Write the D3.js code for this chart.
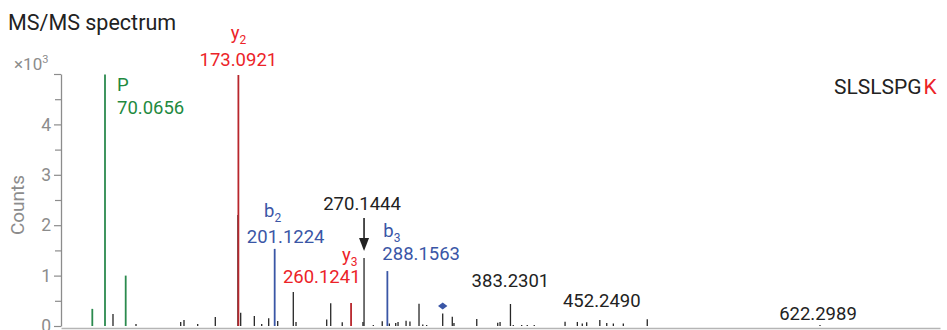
<!DOCTYPE html>
<html>
<head>
<meta charset="utf-8">
<script src="https://cdn.jsdelivr.net/npm/d3@7"></script>
<style>
  body { margin: 0; background: #fff; }
  svg { display: block; font-family: Roboto, "Noto Sans", sans-serif; }
</style>
</head>
<body>
<svg id="chart" width="947" height="330"></svg>
<script>
// Fragment peaks: m/z, intensity (counts) and ion class
const peakMz = [60.26, 70.0656, 76.24, 86.05, 94.01, 128.53, 131.08, 141.66, 155.26,
  172.75, 173.0921, 174.87, 185.4, 191.1, 196.5, 201.1224, 203.45, 215.5, 217.6,
  241.3, 244.4, 253.3, 260.1241, 269.3, 270.1444, 277.3, 284.2, 288.1563, 289.7,
  294.6, 296.4, 302.6, 305.6, 312.6, 315.5, 318.5, 330.9, 338.3, 339.6, 357.2,
  373.4, 375.2, 383.2301, 385.4, 391.9, 396.2, 401.6, 425.4, 434.9, 438.7, 442.1,
  452.2490, 457.6, 462.7, 470.4, 488.9, 622.2989];
const peakCounts = [340, 4990, 240, 1000, 40, 80, 120, 40, 180,
  2200, 4980, 265, 200, 40, 155, 1530, 100, 675, 80,
  130, 450, 75, 456, 80, 1350, 20, 95, 1090, 50,
  60, 80, 105, 90, 440, 30, 20, 250, 185, 60, 140,
  65, 80, 437, 20, 20, 20, 20, 85, 80, 50, 75,
  119, 60, 50, 50, 135, 20];
const peakIon = ['P', 'P', 'n', 'P', 'n', 'n', 'n', 'n', 'n',
  'n', 'y', 'n', 'n', 'n', 'n', 'b', 'n', 'n', 'n',
  'n', 'n', 'n', 'y', 'n', 'n', 'n', 'n', 'b', 'n',
  'n', 'n', 'n', 'n', 'n', 'n', 'n', 'n', 'n', 'n', 'n',
  'n', 'n', 'n', 'n', 'n', 'n', 'n', 'n', 'n', 'n', 'n',
  'n', 'n', 'n', 'n', 'n', 'n'];

// Annotated peaks
const labelMz = [70.0656, 173.0921, 201.1224, 260.1241, 270.1444, 288.1563, 383.2301, 452.2490, 622.2989];
const labelIon = ['P', 'y', 'b', 'y', '', 'b', '', '', ''];
const labelSub = ['', '2', '2', '3', '', '3', '', '', ''];
const precursorMz = 330.9;

// Axis ticks
const yTicks = [0, 500, 1000, 1500, 2000, 2500, 3000, 3500, 4000, 4500, 5000];
const yTickLabels = ['0', '', '1', '', '2', '', '3', '', '4', '', ''];

// Peptide sequence
const seqPlain = 'SLSLSPG';
const seqMod = 'K';

const ionColor = { P: '#2b8a4e', y: '#b8262c', b: '#3a56a6', n: '#262626' };
const textColor = { P: '#1f8a3f', y: '#ec2328', b: '#3a56a6', '': '#222' };
const axisGray = '#8c8c8c';

const svg = d3.select('#chart');

const x = d3.scaleLinear().domain([36.08, 715]).range([61, 940]);
const y = d3.scaleLinear().domain([0, 5000]).range([326, 74]);

// Title
svg.append('text').attr('x', 8).attr('y', 30)
  .attr('font-size', 21.5).attr('fill', '#222').text('MS/MS spectrum');

// Y axis
const yAxis = svg.append('g').attr('transform', 'translate(61,0)')
  .call(d3.axisLeft(y).tickValues(yTicks)
    .tickFormat((d, i) => yTickLabels[i]).tickSize(7).tickSizeOuter(0).tickPadding(3));
yAxis.select('.domain').attr('stroke', axisGray).attr('stroke-width', 1.3);
yAxis.selectAll('.tick line').attr('stroke', axisGray).attr('stroke-width', 1.2)
  .attr('x2', (d, i) => yTickLabels[i] === '' && d !== 5000 ? -6 : -7);
yAxis.selectAll('.tick text').attr('fill', axisGray).attr('font-size', 17.5)
  .attr('font-family', 'Roboto, sans-serif');

svg.append('text').attr('x', 14).attr('y', 70)
  .attr('font-size', 17).attr('fill', axisGray)
  .text('×10').append('tspan').attr('font-size', 11).attr('dy', -7).text('3');

svg.append('text')
  .attr('transform', 'translate(24,205) rotate(-90)')
  .attr('text-anchor', 'middle').attr('font-size', 19).attr('fill', axisGray)
  .text('Counts');

// X axis baseline
const xAxis = svg.append('g').attr('transform', 'translate(0,328)')
  .call(d3.axisBottom(x).tickValues([]).tickSizeOuter(0));
xAxis.select('.domain').attr('stroke', '#b5b5b5').attr('stroke-width', 1.3);

// Peaks
const peaks = peakMz.map((m, i) => ({ mz: m, c: peakCounts[i], ion: peakIon[i] }));
const order = { n: 0, P: 1, b: 1, y: 1 };
peaks.sort((a, b) => order[a.ion] - order[b.ion]);
svg.append('g').selectAll('line').data(peaks).join('line')
  .attr('x1', d => x(d.mz)).attr('x2', d => x(d.mz))
  .attr('y1', y(0)).attr('y2', d => y(d.c))
  .attr('stroke', d => ionColor[d.ion])
  .attr('stroke-width', d => d.ion === 'n' ? 1.3 : 1.8);

// Precursor marker
const pIdx = peakMz.indexOf(precursorMz);
const px = x(precursorMz), py = y(peakCounts[pIdx]) - 7.5;
svg.append('path')
  .attr('d', `M${px},${py - 3.5}L${px + 4.7},${py}L${px},${py + 3.5}L${px - 4.7},${py}Z`)
  .attr('fill', '#3a56a6');

// Label placement relative to the peak top: [anchor, ionDx, ionDy, numDx, numDy]
const place = [
  ['start', 12, 16, 12, 39],
  ['middle', 0, -36, 0, -9],
  ['middle', -2, -32, 11, -6],
  ['end', 6.5, -42, 9.5, -20],
  ['middle', 0, 0, -2, -48],
  ['start', -4, -34, -5, -11],
  ['middle', 0, 0, 0, -17],
  ['middle', 0, 0, 2, -13],
  ['middle', 0, 0, -2, -5]
];

const lab = svg.append('g').attr('font-size', 18.5);
labelMz.forEach((m, i) => {
  const k = peakMz.indexOf(m);
  const cx = x(m), cy = y(peakCounts[k]);
  const [anchor, idx, idy, ndx, ndy] = place[i];
  const col = textColor[labelIon[i]];
  if (labelIon[i]) {
    const t = lab.append('text').attr('x', cx + idx).attr('y', cy + idy)
      .attr('text-anchor', anchor).attr('fill', col).text(labelIon[i]);
    if (labelSub[i]) {
      t.append('tspan').attr('font-size', 12).attr('dy', 5).text(labelSub[i]);
    }
  }
  lab.append('text').attr('x', cx + ndx).attr('y', cy + ndy)
    .attr('text-anchor', anchor).attr('fill', col).text(m.toFixed(4));
});

// Arrow pointing at the unassigned 270.1444 peak
const ax = x(270.1444), atop = y(1350);
svg.append('line').attr('x1', ax).attr('x2', ax)
  .attr('y1', atop - 40).attr('y2', atop - 14)
  .attr('stroke', '#222').attr('stroke-width', 1.6);
svg.append('path')
  .attr('d', `M${ax - 5},${atop - 20}L${ax + 5},${atop - 20}L${ax},${atop - 7}Z`)
  .attr('fill', '#222');

// Peptide sequence with modified residue
const seq = svg.append('text').attr('x', 834).attr('y', 94)
  .attr('font-size', 21).attr('fill', '#222');
seq.append('tspan').text(seqPlain);
seq.append('tspan').attr('dx', 2).attr('fill', '#ec2328').text(seqMod);
</script>
</body>
</html>
